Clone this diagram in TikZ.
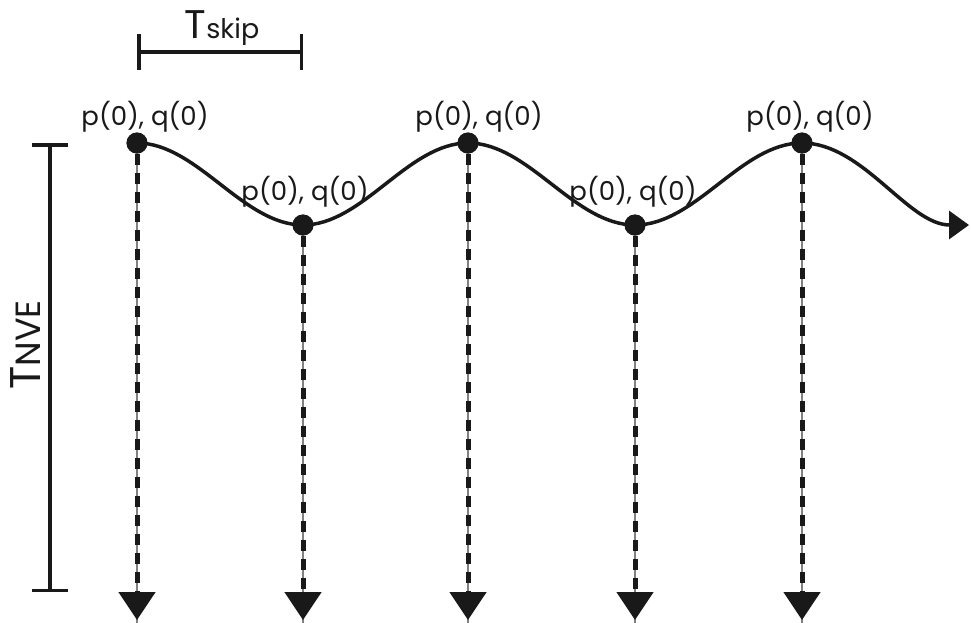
\documentclass[tikz,border=0pt]{standalone}
\usepackage{fontspec}
\setmainfont{Poppins}
\usetikzlibrary{arrows.meta}
\definecolor{ink}{gray}{0.1}
\begin{document}
\begin{tikzpicture}[x=1pt,y=-1pt,
  dot/.style={circle,fill=ink,inner sep=0pt,minimum size=21pt},
  wave/.style={line width=3.5pt,draw=ink},
  barline/.style={line width=3.5pt,draw=ink,{Bar[width=36pt]}-{Bar[width=36pt]}},
  guide/.style={line width=1.6pt,draw=gray},
  dashline/.style={line width=5pt,draw=ink,dash pattern=on 11pt off 8pt,
    -{Triangle[length=28pt,width=36pt,fill=ink]}},
  lbl/.style={font=\fontsize{26}{28}\selectfont,anchor=base,inner sep=0pt,text=ink}
]
\useasboundingbox (0,0) rectangle (971,622);
% dots
\node[dot] (d1) at (137,143) {};
\node[dot] (d2) at (303,225) {};
\node[dot] (d3) at (468,143) {};
\node[dot] (d4) at (635,225) {};
\node[dot] (d5) at (802,143) {};
\coordinate (e) at (969,225);
% bottom coordinates
\coordinate (b1) at (137,620);
\coordinate (b2) at (303,620);
\coordinate (b3) at (468,620);
\coordinate (b4) at (635,620);
\coordinate (b5) at (802,620);
% vertical dashed arrows
\foreach \i in {1,...,5}{
  \draw[guide] (d\i.center) -- ([yshift=-20pt]b\i);
  \draw[dashline] (d\i.south) -- (b\i);
}
% wave
\draw[wave,-{Triangle[length=20pt,width=28pt]}] (d1.center)
  .. controls +(60,0) and +(-60,0) .. (d2.center)
  .. controls +(60,0) and +(-60,0) .. (d3.center)
  .. controls +(61,0) and +(-61,0) .. (d4.center)
  .. controls +(61,0) and +(-61,0) .. (d5.center)
  .. controls +(61,0) and +(-61,0) .. (e);
\foreach \i in {1,...,5} \node[dot] at (d\i) {};
% labels
\node[lbl] (l1) at (145,125) {p(0), q(0)};
\node[lbl] (l2) at (305,200) {p(0), q(0)};
\node[lbl] (l3) at (479,125) {p(0), q(0)};
\node[lbl] (l4) at (633,200) {p(0), q(0)};
\node[lbl] (l5) at (810,125) {p(0), q(0)};
% Tskip bar
\coordinate (s1) at (137,52);
\coordinate (s2) at (303,52);
\draw[barline] (s1) -- (s2);
\node[anchor=base,inner sep=0pt,text=ink] (ts) at (222,38)
  {\fontsize{40}{40}\selectfont T\fontsize{27}{27}\selectfont skip};
% TNVE bar
\coordinate (n1) at (50,143);
\coordinate (n2) at (50,592);
\draw[barline] (n1) -- (n2);
\node[rotate=90,anchor=base,inner sep=0pt,text=ink] (tn) at (40,345)
  {\fontsize{43}{43}\selectfont T\fontsize{35}{35}\selectfont NVE};
\end{tikzpicture}
\end{document}
